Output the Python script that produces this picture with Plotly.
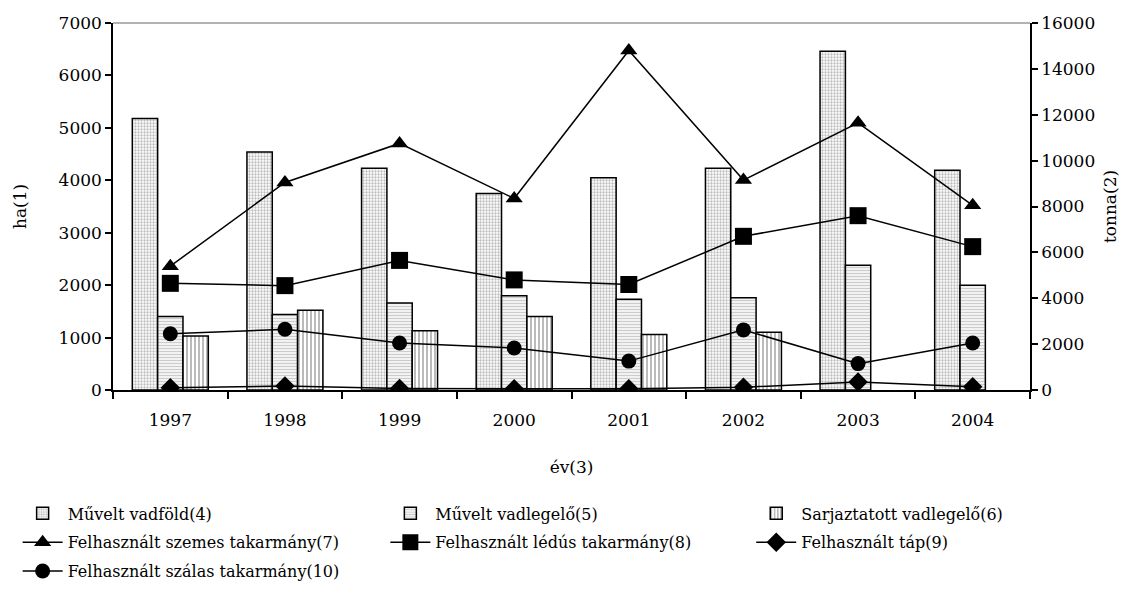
import plotly.graph_objects as go

years = ["1997", "1998", "1999", "2000", "2001", "2002", "2003", "2004"]

# ha (left axis)
muvelt_vadfold = [5180, 4540, 4230, 3750, 4050, 4230, 6460, 4190]
muvelt_vadlegelo = [1400, 1440, 1660, 1800, 1730, 1760, 2380, 2000]
sarjaztatott = [1030, 1520, 1130, 1400, 1060, 1100, None, None]

# tonna (right axis)
szemes = [5400, 9050, 10750, 8350, 14800, 9150, 11650, 8050]
ledus = [4650, 4550, 5650, 4800, 4600, 6700, 7600, 6250]
tap = [100, 175, 60, 50, 50, 120, 350, 145]
szalas = [2450, 2650, 2050, 1830, 1260, 2620, 1150, 2050]

names_bar = ["Művelt vadföld(4)", "Művelt vadlegelő(5)", "Sarjaztatott vadlegelő(6)"]
names_line = ["Felhasznált szemes takarmány(7)", "Felhasznált lédús takarmány(8)",
              "Felhasznált táp(9)", "Felhasznált szálas takarmány(10)"]

FONT = "DejaVu Serif"
TICK = dict(family=FONT, size=17, color="black")
fig = go.Figure()

patterns = [
    dict(shape=".", fgcolor="#777777", bgcolor="white", size=3, solidity=0.45),
    dict(shape="-", fgcolor="#999999", bgcolor="white", size=3, solidity=0.5),
    dict(shape="|", fgcolor="#555555", bgcolor="white", size=4, solidity=0.4),
]
bar_data = [muvelt_vadfold, muvelt_vadlegelo, sarjaztatott]
bar_legends = ["legend", "legend2", "legend3"]
for i in range(3):
    fig.add_trace(go.Bar(
        x=years, y=bar_data[i], name=names_bar[i],
        marker=dict(color="white", pattern=patterns[i],
                    line=dict(color="black", width=1.5)),
        legend=bar_legends[i], legendgroup=names_bar[i], yaxis="y",
    ))

line_data = [szemes, ledus, tap, szalas]
symbols = ["triangle-up", "square", "diamond", "circle"]
sizes = [15, 17, 15, 15]
line_legends = ["legend", "legend2", "legend3", "legend"]
for i in range(4):
    fig.add_trace(go.Scatter(
        x=years, y=line_data[i], name=names_line[i], mode="lines+markers",
        line=dict(color="black", width=1.5),
        marker=dict(symbol=symbols[i], size=sizes[i], color="black"),
        legend=line_legends[i], legendgroup=names_line[i], yaxis="y2",
    ))

legend_common = dict(
    orientation="v", yanchor="top", xanchor="left",
    font=dict(family=FONT, size=16, color="black"),
    bgcolor="rgba(0,0,0,0)", traceorder="grouped", tracegroupgap=5,
    itemwidth=40,
)

# page body has an 8px margin, so the figure is offset by (8, 8)
ML, MT, MR, MB = 105, 15, 119, 233
LY = -0.29
fig.update_layout(
    width=1141, height=615,
    margin=dict(l=ML, r=MR, t=MT, b=MB, autoexpand=False),
    paper_bgcolor="white", plot_bgcolor="white",
    font=dict(family=FONT, size=16, color="black"),
    barmode="group", bargap=0.337, bargroupgap=0,
    showlegend=True,
    legend=dict(x=-0.104, y=LY, **legend_common),
    legend2=dict(x=0.297, y=LY, **legend_common),
    legend3=dict(x=0.696, y=LY, **legend_common),
    xaxis=dict(
        type="category", showgrid=False, showline=True, linecolor="black", linewidth=1.5,
        ticks="outside", tickson="boundaries", ticklen=7, tickcolor="black", tickwidth=1.5,
        ticklabelstandoff=14, tickfont=TICK,
        title=dict(text="év(3)", font=TICK, standoff=32),
    ),
    yaxis=dict(
        range=[0, 7000], dtick=1000, showgrid=False, showline=True, linecolor="black",
        linewidth=1.5, ticks="outside", ticklen=6, tickcolor="black", tickwidth=1.5,
        zeroline=False, tickformat="d", tickfont=TICK,
        title=dict(text="ha(1)", font=TICK, standoff=28),
    ),
    yaxis2=dict(
        range=[0, 16000], dtick=2000, overlaying="y", side="right", showgrid=False,
        showline=True, linecolor="black", linewidth=1.5, ticks="outside", ticklen=6,
        tickcolor="black", tickwidth=1.5, zeroline=False, tickformat="d", tickfont=TICK,
        title=dict(text="tonna(2)", font=TICK, standoff=10),
    ),
    yaxis3=dict(
        range=[0, 16000], dtick=2000, overlaying="y", side="right", showgrid=False,
        showline=False, ticks="inside", ticklen=6, tickcolor="black", tickwidth=1.5,
        showticklabels=False, zeroline=False,
    ),
    shapes=[dict(type="line", xref="paper", yref="paper", x0=0, x1=1, y0=1, y1=1,
                 line=dict(color="#999999", width=1.5))],
)

fig.write_html("out.html")
